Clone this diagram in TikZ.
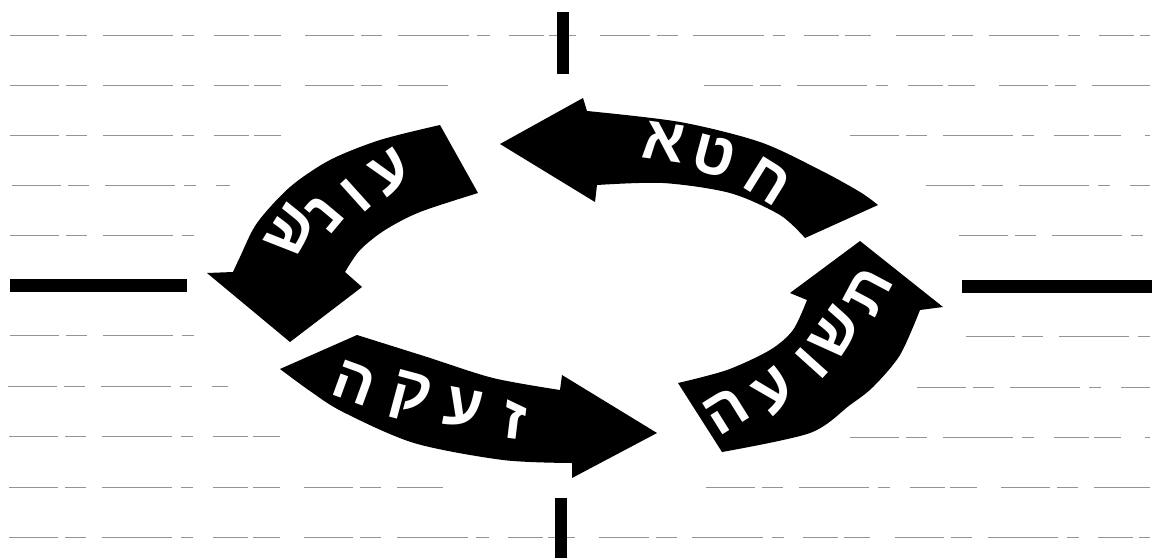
\documentclass[tikz,border=0pt]{standalone}
\usepackage{fontspec}
\newfontfamily\hebfont[Script=Hebrew]{Liberation Sans}
\TeXXeTstate=1
\tikzset{
  bgline/.style={draw=black!42, line width=0.45pt,
    dash pattern=on 28pt off 4pt on 12pt off 9pt on 40pt off 5pt on 7pt off 11pt on 20pt off 3pt on 15pt off 14pt},
  thickbar/.style={draw=black, line width=7pt},
  band/.style={fill=black},
  letter/.style={text=white, font=\hebfont\bfseries\fontsize{35}{35}\selectfont, inner sep=0pt}
}
\begin{document}
\begin{tikzpicture}[x=0.02cm, y=-0.02cm]
\useasboundingbox (0,0) rectangle (1159,558);
% background dashed lines
\draw[bgline] (10,35) -- (1150,35);
\draw[bgline] (10,85) -- (448,85);
\draw[bgline] (704,85) -- (1150,85);
\draw[bgline] (10,135) -- (302,135);
\draw[bgline] (850,135) -- (1150,135);
\draw[bgline] (12,185) -- (230,185);
\draw[bgline] (926,185) -- (1150,185);
\draw[bgline] (10,235) -- (198,235);
\draw[bgline] (959,235) -- (1150,235);
\draw[bgline] (10,335) -- (195,335);
\draw[bgline] (966,336) -- (1150,336);
\draw[bgline] (8,386) -- (228,386);
\draw[bgline] (917,387) -- (1150,387);
\draw[bgline] (9,436) -- (299,436);
\draw[bgline] (850,437) -- (1150,437);
\draw[bgline] (9,487) -- (443,487);
\draw[bgline] (706,487) -- (1150,487);
\draw[bgline] (9,537) -- (1150,537);
% thick cross bars
\draw[thickbar] (563,12) -- (563,74);
\draw[thickbar] (561,498) -- (561,558);
\draw[thickbar, line width=7.4pt] (10,285.5) -- (187,285.5);
\draw[thickbar, line width=7.4pt] (962,286.5) -- (1152,286.5);
% top arrow (points left)
\fill[band] (500,144) -- (583,98) -- (587,111)
  -- plot[smooth] coordinates {(587,111) (680,122) (760,142) (820,170) (860,192) (878,205)}
  -- (805,238)
  -- plot[smooth] coordinates {(805,238) (780,215) (730,193) (663,183) (597,185)}
  -- (595,202) -- cycle;
% left arrow (points down)
\fill[band] (440,125) -- (478,193)
  -- plot[smooth] coordinates {(478,193) (420,212) (385,230) (360,250) (345,272)}
  -- (362,287) -- (290,342) -- (207,273) -- (233,272)
  -- plot[smooth] coordinates {(233,272) (240,257) (257,223) (290,187) (330,160) (380,140) (440,125)}
  -- cycle;
% bottom arrow (points right)
\fill[band] (280,369) -- (357,335)
  -- plot[smooth] coordinates {(357,335) (427,357) (493,378) (560,390)}
  -- (562,375) -- (657,433) -- (572,478) -- (572,463)
  -- plot[smooth] coordinates {(572,463) (503,460) (414,443) (343,412) (310,391) (280,369)}
  -- cycle;
% right arrow (points up)
\fill[band] (678,383) -- (722,452)
  -- plot[smooth] coordinates {(722,452) (810,433) (850,405) (873,387) (900,355) (920,310)}
  -- (943,307) -- (860,241) -- (790,293) -- (807,300)
  -- plot[smooth] coordinates {(807,300) (793,330) (770,350) (727,370) (678,383)}
  -- cycle;
% letters
\node[letter, rotate=-8]  (t1) at (664,142) {\beginR א\endR};
\node[letter, rotate=-15] (t2) at (714,156) {\beginR ט\endR};
\node[letter, rotate=-32] (t3) at (768,181) {\beginR ח\endR};
\node[letter, rotate=35] (l1) at (391,172) {\beginR ע\endR};
\node[letter, rotate=42] (l2) at (356,195) {\beginR ו\endR};
\node[letter, rotate=50] (l3) at (325,213) {\beginR נ\endR};
\node[letter, rotate=58] (l4) at (291,231) {\beginR ש\endR};
\node[letter, rotate=-20] (b1) at (354,383) {\beginR ה\endR};
\node[letter, rotate=-15] (b2) at (410,397) {\beginR ק\endR};
\node[letter, rotate=-11] (b3) at (464,409) {\beginR ע\endR};
\node[letter, rotate=-7]  (b4) at (515,420) {\beginR ז\endR};
\node[letter, rotate=62] (r1) at (868,291) {\beginR ת\endR};
\node[letter, rotate=55] (r2) at (836,333) {\beginR ש\endR};
\node[letter, rotate=48] (r3) at (812,363) {\beginR ו\endR};
\node[letter, rotate=40] (r4) at (775,391) {\beginR ע\endR};
\node[letter, rotate=32] (r5) at (726,411) {\beginR ה\endR};
\end{tikzpicture}
\end{document}
